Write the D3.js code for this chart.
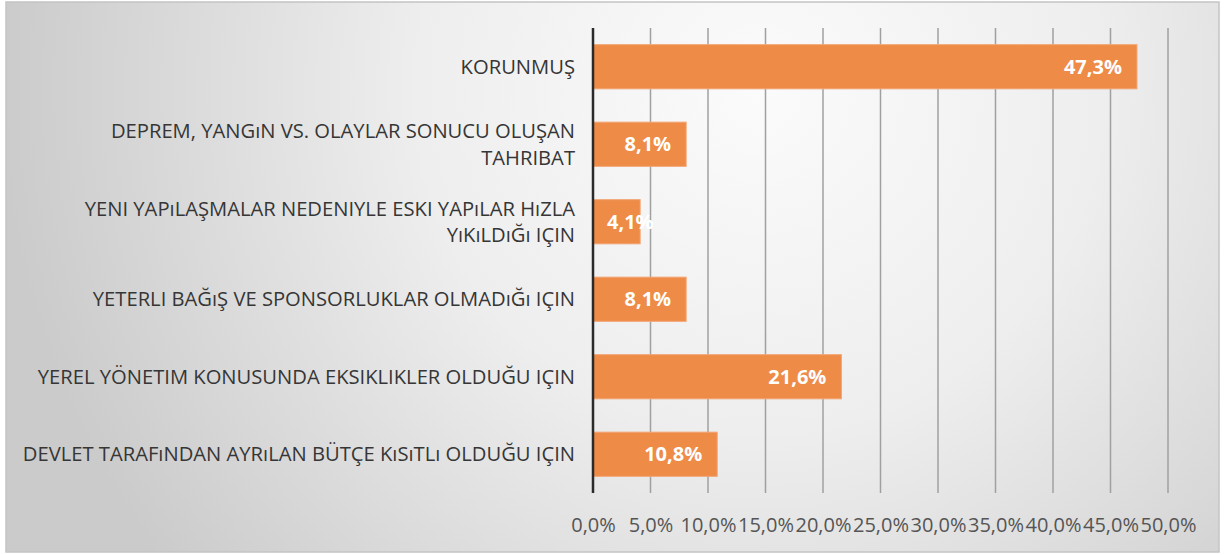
<!DOCTYPE html>
<html>
<head>
<meta charset="utf-8">
<script src="https://cdn.jsdelivr.net/npm/d3@7"></script>
<style>
  body { margin: 0; background: #ffffff; }
  svg { display: block; }
</style>
</head>
<body>
<svg id="chart" width="1228" height="555"></svg>
<script>
// categories from top to bottom, "\n" marks the line break of the label
const categories = [
    "KORUNMUŞ",
    "DEPREM, YANGıN VS. OLAYLAR SONUCU OLUŞAN\nTAHRIBAT",
    "YENI YAPıLAŞMALAR NEDENIYLE ESKI YAPıLAR HıZLA\nYıKıLDıĞı IÇIN",
    "YETERLI BAĞıŞ VE SPONSORLUKLAR OLMADıĞı IÇIN",
    "YEREL YÖNETIM KONUSUNDA EKSIKLIKLER OLDUĞU IÇIN",
    "DEVLET TARAFıNDAN AYRıLAN BÜTÇE KıSıTLı OLDUĞU IÇIN"
];
const values = [47.3, 8.1, 4.1, 8.1, 21.6, 10.8];
const ticks = [0, 5, 10, 15, 20, 25, 30, 35, 40, 45, 50];

const fmt = v => v.toFixed(1).replace(".", ",") + "%";

let svg = d3.select("#chart");
const W = +svg.attr("width");
const H = +svg.attr("height");

let margin = {left: 593, right: 60, top: 28, bottom: 62};

// background frame with soft grey gradient
let defs = svg.append("defs");
let grad = defs.append("radialGradient")
    .attr("id", "bg")
    .attr("gradientUnits", "userSpaceOnUse")
    .attr("cx", 760).attr("cy", 90)
    .attr("r", 760);
grad.append("stop").attr("offset", "0%").attr("stop-color", "#fbfbfb");
grad.append("stop").attr("offset", "45%").attr("stop-color", "#eeeeee");
grad.append("stop").attr("offset", "100%").attr("stop-color", "#cbcbcb");

svg.append("rect")
    .attr("x", 6).attr("y", 2)
    .attr("width", 1213).attr("height", 550)
    .attr("fill", "url(#bg)")
    .attr("stroke", "#c4c4c4")
    .attr("stroke-width", 1.5);

let x = d3.scaleLinear()
    .domain([0, 50])
    .range([margin.left, W - margin.right]);

let y = d3.scaleBand()
    .domain(categories)
    .range([margin.top, H - margin.bottom])
    .paddingInner(0.43)
    .paddingOuter(0.215);

// vertical gridlines
svg.append("g")
    .selectAll("line")
    .data(ticks.slice(1))
    .enter()
    .append("line")
    .attr("x1", d => x(d)).attr("x2", d => x(d))
    .attr("y1", margin.top).attr("y2", H - margin.bottom)
    .style("stroke", "#a0a0a0")
    .style("stroke-width", 1.5);

// x axis tick labels
let xAxis = d3.axisBottom(x)
    .tickValues(ticks)
    .tickFormat(fmt)
    .tickSize(0)
    .tickPadding(0);
let gx = svg.append("g")
    .attr("transform", "translate(0," + (H - margin.bottom + 39) + ")")
    .call(xAxis);
gx.select(".domain").remove();
gx.selectAll("text")
    .attr("dy", 0)
    .style("font-family", "'Open Sans', sans-serif")
    .style("font-size", "20px")
    .style("fill", "#555555");

// bars
svg.append("g")
    .selectAll("rect")
    .data(values)
    .enter()
    .append("rect")
    .attr("x", x(0))
    .attr("y", (d, i) => y(categories[i]))
    .attr("width", d => x(d) - x(0))
    .attr("height", y.bandwidth())
    .style("fill", "#ee8b47")
    .style("stroke", "#f3a574")
    .style("stroke-width", 1);

// value axis line
svg.append("line")
    .attr("x1", x(0)).attr("x2", x(0))
    .attr("y1", margin.top).attr("y2", H - margin.bottom)
    .style("stroke", "#2a2a2a")
    .style("stroke-width", 2.5);

// category labels
let yAxis = d3.axisLeft(y).tickSize(0).tickPadding(18);
let gy = svg.append("g")
    .attr("transform", "translate(" + x(0) + ",0)")
    .call(yAxis);
gy.select(".domain").remove();
gy.selectAll("text")
    .text(null)
    .style("font-family", "'Open Sans', sans-serif")
    .style("font-size", "20.2px")
    .style("fill", "#363636")
    .each(function(d) {
        let lines = d.split("\n");
        let t = d3.select(this).attr("dy", null);
        lines.forEach(function(line, k) {
            t.append("tspan")
                .attr("x", -18)
                .attr("y", (k - (lines.length - 1) / 2) * 26.5)
                .attr("dy", "0.35em")
                .text(line);
        });
    });

// data labels inside the bar end
svg.append("g")
    .selectAll("text")
    .data(values)
    .enter()
    .append("text")
    .attr("y", (d, i) => y(categories[i]) + y.bandwidth() / 2)
    .attr("dy", "0.35em")
    .style("font-family", "'Open Sans', sans-serif")
    .style("font-size", "20px")
    .style("font-weight", "bold")
    .style("fill", "#ffffff")
    .text(fmt)
    .each(function(d) {
        let w = this.getComputedTextLength();
        let xr = x(d) - 15;
        let xl = Math.max(xr - w, x(0) + 14);
        d3.select(this).attr("x", xl);
    });
</script>
</body>
</html>
